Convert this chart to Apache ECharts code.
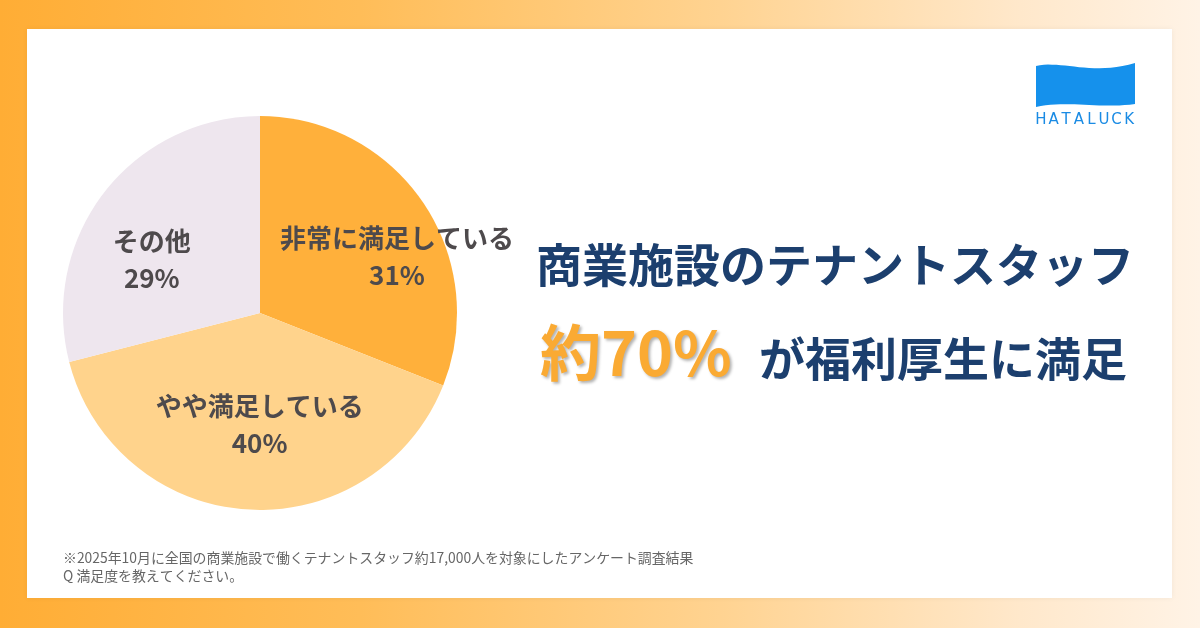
<!DOCTYPE html>
<html>
<head>
<meta charset="utf-8">
<script src="https://cdn.jsdelivr.net/npm/echarts@6/dist/echarts.min.js"></script>
<style>
html,body{margin:0;padding:0;}
#chart{width:1200px;height:628px;}
</style>
</head>
<body>
<div id="chart"></div>
<script>
// ---- data ----
const categories = ['非常に満足している', 'やや満足している', 'その他'];
const values = [31, 40, 29];
const sliceColors = ['#FFB03B', '#FFD38C', '#EEE6EE'];
const titleLine1 = '商業施設のテナントスタッフ';
const highlight = '約70%';
const titleLine2 = 'が福利厚生に満足';
const note1 = '※2025年10月に全国の商業施設で働くテナントスタッフ約17,000人を対象にしたアンケート調査結果';
const note2 = 'Q 満足度を教えてください。';
const brand = 'HATALUCK';

const labelOffsets = [[53, 1], [6, 10], [-28, 9]];
const FONT = '"Noto Sans CJK JP", "Noto Sans", sans-serif';

// logo flag outline (decoration) from two cubic curves
function bez(p0, p1, p2, p3, n) {
  const pts = [];
  for (let i = 0; i <= n; i++) {
    const t = i / n, u = 1 - t;
    pts.push([
      u*u*u*p0[0] + 3*u*u*t*p1[0] + 3*u*t*t*p2[0] + t*t*t*p3[0],
      u*u*u*p0[1] + 3*u*u*t*p1[1] + 3*u*t*t*p2[1] + t*t*t*p3[1]
    ]);
  }
  return pts;
}
const flagPts = bez([1036,66],[1062,60],[1092,76],[1135,63],20)
  .concat(bez([1135,104],[1100,109],[1068,100],[1036,107],20));

// logo wordmark letters, spread across the flag width
const brandLetters = brand.split('').map((ch, i) => ({
  type: 'text', z: 1,
  style: {x: 1041 + i * 12.6, y: 120, text: ch, fill: '#1A8BE4',
    font: '15px "DejaVu Sans", sans-serif', align: 'center', verticalAlign: 'middle'}
}));

const chart = echarts.init(document.getElementById('chart'));
chart.setOption({
  animation: false,
  backgroundColor: {
    type: 'linear', x: 0, y: 0, x2: 1, y2: 0,
    colorStops: [
      {offset: 0, color: '#FFAD35'},
      {offset: 0.3, color: '#FFBD58'},
      {offset: 0.6, color: '#FFD391'},
      {offset: 0.85, color: '#FFE8CB'},
      {offset: 1, color: '#FFF3E6'}
    ]
  },
  graphic: [
    {type: 'rect', z: 0, shape: {x: 27, y: 29, width: 1145, height: 569},
     style: {fill: '#FFFFFF', shadowBlur: 6, shadowColor: 'rgba(0,0,0,0.05)'}},
    {type: 'polygon', z: 1, shape: {points: flagPts}, style: {fill: '#1591EC'}},
    ...brandLetters,
    {type: 'text', z: 2, style: {x: 536, y: 265, text: titleLine1, fill: '#1C3F6E',
      font: 'bold 46px ' + FONT, align: 'left', verticalAlign: 'middle'}},
    {type: 'text', z: 2, style: {x: 540, y: 353, text: highlight, fill: '#FAAA33',
      font: 'bold 61px ' + FONT, align: 'left', verticalAlign: 'middle',
      textShadowColor: 'rgba(0,0,0,0.3)', textShadowBlur: 3, textShadowOffsetX: 2, textShadowOffsetY: 2}},
    {type: 'text', z: 2, style: {x: 759, y: 359, text: titleLine2, fill: '#1C3F6E',
      font: 'bold 46px ' + FONT, align: 'left', verticalAlign: 'middle'}},
    {type: 'text', z: 2, style: {x: 63, y: 558, text: note1, fill: '#666666',
      font: '13.9px ' + FONT, align: 'left', verticalAlign: 'middle'}},
    {type: 'text', z: 2, style: {x: 63, y: 576, text: note2, fill: '#666666',
      font: '13.9px ' + FONT, align: 'left', verticalAlign: 'middle'}}
  ],
  series: [{
    type: 'pie',
    z: 3,
    center: [260, 313],
    radius: [0, 197],
    startAngle: 90,
    clockwise: true,
    silent: true,
    itemStyle: {borderWidth: 0},
    label: {
      show: true,
      position: 'inside',
      formatter: p => p.name + '\n' + p.value + '%',
      color: '#4E4A4C',
      fontFamily: FONT,
      fontWeight: 'bold',
      fontSize: 26,
      lineHeight: 37,
      align: 'center'
    },
    labelLine: {show: false},
    data: categories.map((c, i) => ({
      name: c,
      value: values[i],
      itemStyle: {color: sliceColors[i]},
      label: {offset: labelOffsets[i]}
    }))
  }]
});
</script>
</body>
</html>
